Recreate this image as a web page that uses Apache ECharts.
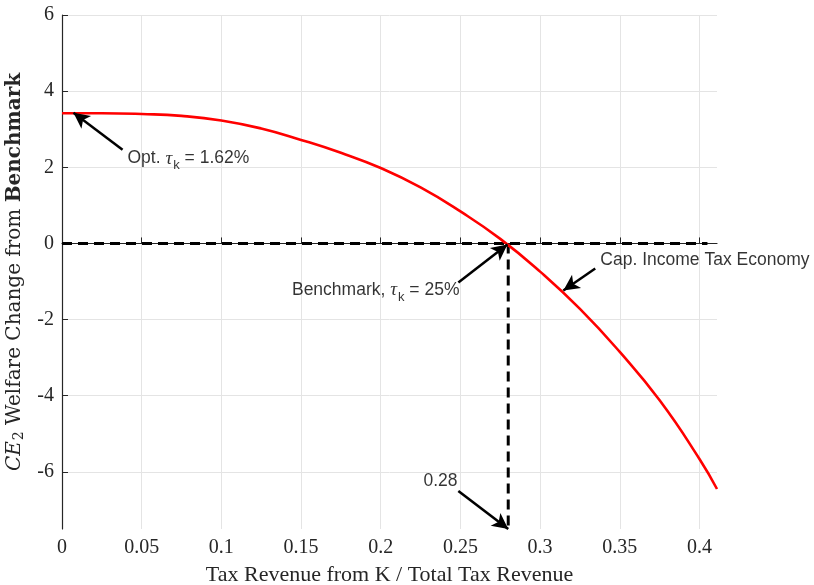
<!DOCTYPE html>
<html>
<head>
<meta charset="utf-8">
<script src="https://cdn.jsdelivr.net/npm/echarts@6/dist/echarts.min.js"></script>
<style>
html, body { margin: 0; padding: 0; background: #fff; }
#chart1 { width: 814px; height: 585px; }
</style>
</head>
<body>
<div id="chart1"></div>
<script>
// values
var taxShare = [0, 0.025, 0.05, 0.075, 0.1, 0.125, 0.15, 0.175, 0.2, 0.225, 0.25, 0.275, 0.3, 0.325, 0.35, 0.375, 0.4, 0.411];
var welfareCE2 = [3.42, 3.42, 3.40, 3.35, 3.23, 3.02, 2.72, 2.38, 1.98, 1.47, 0.84, 0.12, -0.74, -1.72, -2.85, -4.12, -5.66, -6.45];
var xTicks = [0, 0.05, 0.1, 0.15, 0.2, 0.25, 0.3, 0.35, 0.4];
var yTicks = [-6, -4, -2, 0, 2, 4, 6];
var benchShare = 0.28;
var zeroLineEnd = 0.405;

var myChart = echarts.init(document.getElementById('chart1'));

var curve = [];
for (var i = 0; i < taxShare.length; i++) {
	curve.push([taxShare[i], welfareCE2[i]]);
}

var axisColor = '#262626';
var gridColor = '#e4e4e4';
var serif = 'Liberation Serif';
var sans = 'Liberation Sans';

var noteRich = {
	t: { fontFamily: serif, fontStyle: 'italic', fontSize: 19, color: '#000' },
	k: { fontFamily: sans, fontSize: 13, color: '#000', padding: [14, 0, 0, 1] }
};

function arrow(from, to) {
	return [{ coord: from }, { coord: to }];
}

var option = {
	animation: false,
	grid: { left: 62, right: 97, top: 15, bottom: 56, outerBoundsMode: 'none' },
	xAxis: {
		type: 'value',
		min: 0,
		max: 0.411,
		name: 'Tax Revenue from K / Total Tax Revenue',
		nameLocation: 'middle',
		nameGap: 35,
		nameTextStyle: { fontFamily: serif, fontSize: 22, color: axisColor },
		axisLine: { show: true, lineStyle: { color: axisColor, width: 1.2 } },
		axisTick: { show: true, inside: true, length: 6, customValues: xTicks, lineStyle: { color: axisColor } },
		axisLabel: { customValues: xTicks, margin: 9, fontFamily: serif, fontSize: 20, color: axisColor },
		splitLine: { show: true, lineStyle: { color: gridColor, width: 1 } }
	},
	yAxis: {
		type: 'value',
		min: -7.5,
		max: 6,
		name: '{ce|CE}{s|2} Welfare Change from {b|Benchmark}',
		nameLocation: 'middle',
		nameGap: 31,
		nameTextStyle: {
			fontFamily: 'DejaVu Serif', fontSize: 20, color: axisColor,
			rich: {
				ce: { fontFamily: 'DejaVu Serif', fontStyle: 'italic', fontSize: 20, color: axisColor },
				s: { fontFamily: 'DejaVu Serif', fontSize: 14, color: axisColor, padding: [10, 0, 0, 1] },
				b: { fontFamily: 'DejaVu Serif', fontWeight: 'bold', fontSize: 20, color: axisColor }
			}
		},
		axisLine: { show: true, lineStyle: { color: axisColor, width: 1.2 } },
		axisTick: { show: true, inside: true, length: 6, customValues: yTicks, lineStyle: { color: axisColor } },
		axisLabel: { customValues: yTicks, margin: 8, fontFamily: serif, fontSize: 20, color: axisColor },
		splitLine: { show: true, lineStyle: { color: gridColor, width: 1 } }
	},
	series: [
		{
			name: 'zero',
			type: 'line',
			data: [[0, 0], [zeroLineEnd, 0]],
			showSymbol: false,
			silent: true,
			lineStyle: { color: '#000', width: 3, type: [10, 6] },
			z: 3
		},
		{
			name: 'bench',
			type: 'line',
			data: [[benchShare, 0], [benchShare, -7.5]],
			showSymbol: false,
			silent: true,
			lineStyle: { color: '#000', width: 3, type: [10, 6] },
			z: 3
		},
		{
			name: 'Cap. Income Tax Economy',
			type: 'line',
			data: curve,
			smooth: 0.5,
			showSymbol: false,
			lineStyle: { color: '#ff0000', width: 2.6 },
			z: 4
		},
		{
			name: 'notes',
			type: 'scatter',
			symbolSize: 0,
			silent: true,
			z: 5,
			label: { show: true, distance: 0, fontFamily: sans, fontSize: 17.5, color: '#000', rich: noteRich },
			data: [
				{ value: [0.0411, 2.23], label: { position: 'right', formatter: 'Opt. {t|τ}{k|k} = 1.62%' } },
				{ value: [0.2494, -1.235], label: { position: 'left', formatter: 'Benchmark, {t|τ}{k|k} = 25%' } },
				{ value: [0.3378, -0.44], label: { position: 'right', formatter: 'Cap. Income Tax Economy' } },
				{ value: [0.2375, -6.24], label: { position: 'inside', formatter: '0.28' } }
			],
			markLine: {
				silent: true,
				symbol: ['none', 'arrow'],
				symbolSize: [12, 16],
				label: { show: false },
				lineStyle: { color: '#000', width: 2.5, type: 'solid' },
				data: [
					arrow([0.038, 2.46], [0.0072, 3.43]),
					arrow([0.2487, -1.025], [0.2795, -0.03]),
					arrow([0.3346, -0.66], [0.3146, -1.235]),
					arrow([0.2487, -6.5], [0.28, -7.5])
				]
			}
		}
	]
};
myChart.setOption(option);

window.onresize = function() {
	myChart.resize();
};
</script>
</body>
</html>
